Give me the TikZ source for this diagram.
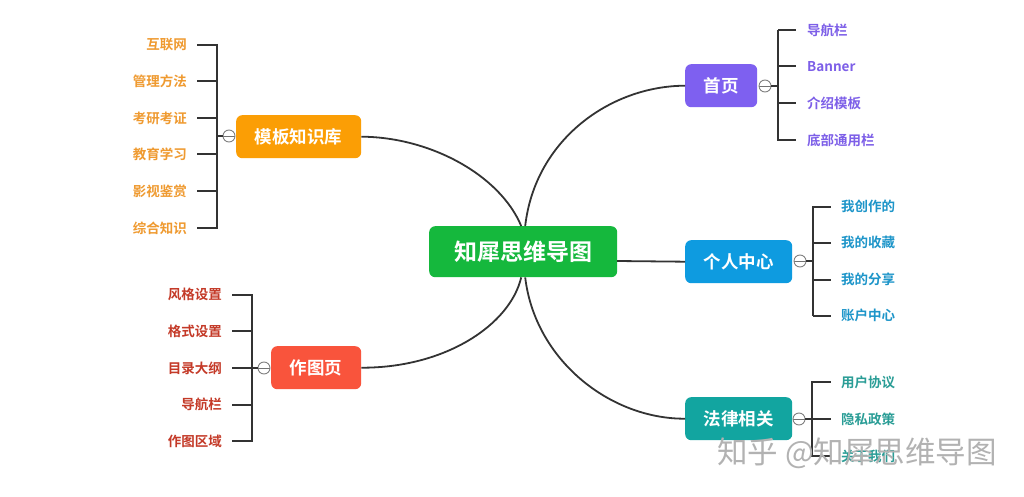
\documentclass[tikz,border=0pt]{standalone}
\usepackage{fontspec}
\setmainfont{Noto Sans CJK SC}[BoldFont={Noto Sans CJK SC Bold}]
\newcommand{\zfs}[1]{\fontsize{#1}{#1}\selectfont}
\definecolor{cgreen}{HTML}{15B83D}
\definecolor{cpurple}{HTML}{7E60F0}
\definecolor{cblue}{HTML}{0E9BE0}
\definecolor{cteal}{HTML}{12A5A0}
\definecolor{corange}{HTML}{FB9E05}
\definecolor{cred}{HTML}{F9543C}
\definecolor{tpurple}{HTML}{7D5FE8}
\definecolor{tblue}{HTML}{1D95C9}
\definecolor{tteal}{HTML}{2A9D96}
\definecolor{torange}{HTML}{EF9A30}
\definecolor{tred}{HTML}{C43A28}
\definecolor{lnk}{HTML}{333333}
\tikzset{
  x=1pt,y=-1pt,
  topic/.style={rounded corners=6pt,text=white,font=\zfs{17.5}\bfseries,inner sep=0pt,anchor=north west},
  leafr/.style={anchor=west,font=\zfs{13.5}\bfseries,inner sep=0pt},
  leafl/.style={anchor=east,font=\zfs{13.5}\bfseries,inner sep=0pt},
  link/.style={draw=lnk,line width=2pt},
  curve/.style={draw=lnk,line width=1.8pt},
  fold/.style={circle,draw=gray,fill=white,line width=.9pt,minimum size=12pt,inner sep=0pt,
    path picture={\draw[gray!90!black,line width=.9pt] (path picture bounding box.west) -- (path picture bounding box.east);}},
}
\begin{document}
\begin{tikzpicture}
\useasboundingbox (0,0) rectangle (1024,497);
\fill[white] (0,0) rectangle (1024,497);
% topics
\node[topic,fill=cgreen,minimum width=188pt,minimum height=51pt,font=\zfs{23}\bfseries] (c) at (429,226) {知犀思维导图};
\node[topic,fill=cpurple,minimum width=72pt,minimum height=43pt] (a1) at (685,64) {首页};
\node[topic,fill=cblue,minimum width=107pt,minimum height=43pt] (a2) at (685,240) {个人中心};
\node[topic,fill=cteal,minimum width=107pt,minimum height=43pt] (a3) at (685,397) {法律相关};
\node[topic,fill=corange,minimum width=125pt,minimum height=43pt] (b1) at (236,115) {模板知识库};
\node[topic,fill=cred,minimum width=90pt,minimum height=43pt] (b2) at (271,346) {作图页};
% main curves
\draw[curve] ([xshift=-2pt]c.north) .. controls (500,175) and (430,137) .. (b1.east);
\draw[curve] ([xshift=-2pt]c.south) .. controls (510,325) and (445,368) .. (b2.east);
\draw[curve] ([xshift=2pt]c.north) .. controls (535,140) and (610,86) .. (a1.west);
\draw[curve] ([xshift=2pt]c.south) .. controls (535,360) and (610,419) .. (a3.west);
\coordinate (cr) at (617,261);
\draw[curve] (cr) -- (a2.west);
% leaves right
\foreach \n/\y/\t in {p1/30.5/导航栏,p2/66.5/Banner,p3/103.5/介绍模板,p4/140.5/底部通用栏}
  \node[leafr,text=tpurple] (\n) at (807,\y) {\t};
\foreach \n/\y/\t in {q1/206.5/我创作的,q2/242.5/我的收藏,q3/279.5/我的分享,q4/315.5/账户中心}
  \node[leafr,text=tblue] (\n) at (841,\y) {\t};
\foreach \n/\y/\t in {r1/382/用户协议,r2/419/隐私政策,r3/456/关于我们}
  \node[leafr,text=tteal] (\n) at (841,\y) {\t};
% leaves left
\foreach \n/\y/\t in {s1/45/互联网,s2/81.5/管理方法,s3/118/考研考证,s4/154.5/教育学习,s5/191/影视鉴赏,s6/228/综合知识}
  \node[leafl,text=torange] (\n) at (187,\y) {\t};
\foreach \n/\y/\t in {u1/294.5/风格设置,u2/331/格式设置,u3/368/目录大纲,u4/404.5/导航栏,u5/441/作图区域}
  \node[leafl,text=tred] (\n) at (222,\y) {\t};
% brackets
\foreach \n in {p1,p2,p3,p4} \draw[link] (778,0 |- \n.west) -- ([xshift=-11pt]\n.west);
\draw[link] (778,30) -- (778,141);
\foreach \n in {q1,q2,q3,q4} \draw[link] (813,0 |- \n.west) -- ([xshift=-10pt]\n.west);
\draw[link] (813,206) -- (813,316);
\foreach \n in {r1,r2,r3} \draw[link] (812,0 |- \n.west) -- ([xshift=-10pt]\n.west);
\draw[link] (812,381) -- (812,457);
\foreach \n in {s1,s2,s3,s4,s5,s6} \draw[link] (217,0 |- \n.east) -- ([xshift=10pt]\n.east);
\draw[link] (217,44) -- (217,229);
\foreach \n in {u1,u2,u3,u4,u5} \draw[link] (252,0 |- \n.east) -- ([xshift=10pt]\n.east);
\draw[link] (252,294) -- (252,442);
% fold circles and stubs
\node[fold] (f1) at (765,86) {};
\node[fold] (f2) at (800,261) {};
\node[fold] (f3) at (799,419) {};
\node[fold] (f4) at (229,136) {};
\node[fold] (f5) at (264,368) {};
\draw[link] (f1.east) -- (778,86);
\draw[link] (f2.east) -- (813,261);
\draw[link] (f3.east) -- (812,419);
\draw[link] (f4.west) -- (217,136);
\draw[link] (f5.west) -- (252,368);
% watermark
\node[anchor=west,inner sep=0pt,text=gray!60,font=\zfs{30.5}] (w) at (717,453) {知乎 @知犀思维导图};
\end{tikzpicture}
\end{document}
